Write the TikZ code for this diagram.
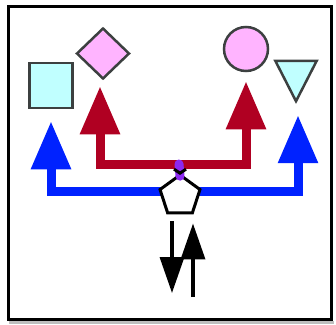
\documentclass[tikz,border=0pt]{standalone}
\usetikzlibrary{shapes.geometric,arrows.meta}
\definecolor{blueA}{RGB}{0,34,255}
\definecolor{redA}{RGB}{176,0,34}
\definecolor{purpA}{RGB}{140,40,240}
\definecolor{pinkA}{RGB}{255,180,255}
\definecolor{cyanA}{RGB}{192,255,255}
\definecolor{edgeA}{RGB}{60,64,64}
\tikzset{
  shp/.style={draw=edgeA, line width=2.5pt, inner sep=0pt},
  bigarrow/.style={line width=9pt, -{Triangle[length=48pt,width=38pt]}},
  thinarrow/.style={line width=3.5pt, black, -{Triangle[length=36pt,width=24pt]}},
}
\begin{document}
\begin{tikzpicture}[x=1pt,y=-1pt]
\useasboundingbox (0,0) rectangle (336,324);
% frame
\fill[black!25] (9,321) rectangle (334,324);
\draw[line width=3pt] (8.5,6.5) rectangle (331.5,319.5);
% nodes
\node[shp, fill=cyanA, minimum width=43pt, minimum height=45pt] (sq) at (51,85.5) {};
\node[shp, fill=pinkA, diamond, minimum width=53pt, minimum height=51pt] (dia) at (103,53.5) {};
\node[shp, fill=pinkA, circle, minimum size=44pt] (circ) at (246,49) {};
\node[inner sep=0pt, minimum width=41pt, minimum height=40pt] (tri) at (296,81) {};
\draw[shp, fill=cyanA, line join=miter] (tri.north west) -- (tri.north east) -- (tri.south) -- cycle;
\coordinate (bj) at (181,191);
\coordinate (dn) at (172,293);
\coordinate (up) at (193,297);
% blue connectors
\draw[bigarrow, blueA, shorten >=12pt] (bj) -| (sq);
\draw[bigarrow, blueA, shorten >=14pt] (bj) -| ([xshift=2pt]tri.south);
% red connectors
\coordinate (pd) at (179,164);
\draw[bigarrow, redA, shorten >=6pt] (pd) -| ([xshift=-3pt]dia.south);
\draw[bigarrow, redA, shorten >=9pt] (pd) -| (circ);
% pentagon
\node[regular polygon, regular polygon sides=5, draw=black, fill=white, line width=3pt, inner sep=0pt, minimum size=42pt] (pent) at (180,196) {};
% purple junction
\draw[purpA, line width=9pt, line cap=round] (pd) -- ([yshift=-3pt]pent.north);
\draw[black, line width=3pt, line join=miter] ([xshift=-6pt,yshift=4pt]pent.north) -- (pent.north) -- ([xshift=6pt,yshift=4pt]pent.north);
% black arrows
\draw[thinarrow, shorten <=7pt] (pent.south -| dn) -- (dn);
\draw[thinarrow, shorten >=9pt] (up) -- (up |- pent.south);
\end{tikzpicture}
\end{document}
